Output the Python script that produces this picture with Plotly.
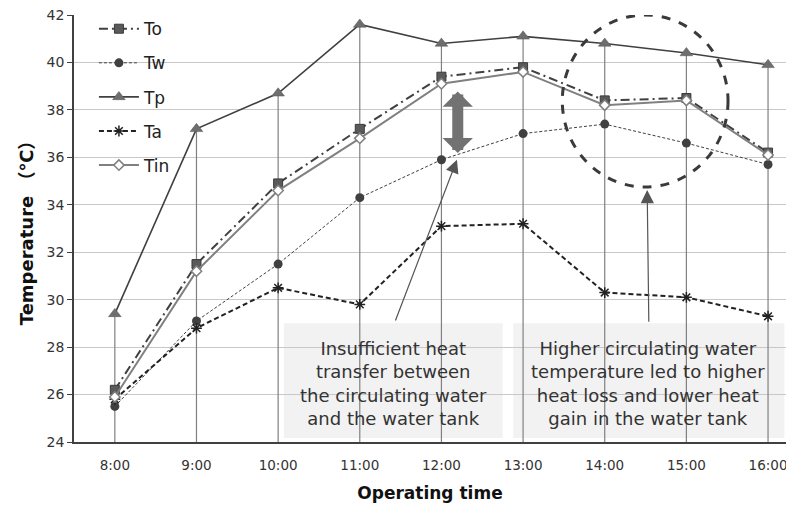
import plotly.graph_objects as go

times = ["8:00", "9:00", "10:00", "11:00", "12:00", "13:00", "14:00", "15:00", "16:00"]
To = [26.2, 31.5, 34.9, 37.2, 39.4, 39.8, 38.4, 38.5, 36.2]
Tw = [25.5, 29.1, 31.5, 34.3, 35.9, 37.0, 37.4, 36.6, 35.7]
Tp = [29.4, 37.2, 38.7, 41.6, 40.8, 41.1, 40.8, 40.4, 39.9]
Ta = [25.8, 28.8, 30.5, 29.8, 33.1, 33.2, 30.3, 30.1, 29.3]
Tin = [25.9, 31.2, 34.6, 36.8, 39.1, 39.6, 38.2, 38.4, 36.1]
y_ticks = [24, 26, 28, 30, 32, 34, 36, 38, 40, 42]

FONT = "DejaVu Sans, Noto Sans CJK SC"
idx = list(range(len(times)))

fig = go.Figure()

# drop lines from the highest series down to the axis
dx, dy = [], []
for i, v in zip(idx, Tp):
    dx += [i, i, None]
    dy += [y_ticks[0], v, None]
fig.add_trace(go.Scatter(x=dx, y=dy, mode="lines", line=dict(color="#808080", width=1.2),
                         showlegend=False, hoverinfo="skip"))

fig.add_trace(go.Scatter(x=idx, y=To, name="To", legendgroup="a", mode="lines+markers",
                         line=dict(color="#404040", width=2, dash="9px,4px,2px,4px"),
                         marker=dict(symbol="square", size=9, color="#5a5a5a",
                                     line=dict(color="#3a3a3a", width=1))))
fig.add_trace(go.Scatter(x=idx, y=Tw, name="Tw", legendgroup="b", mode="lines+markers",
                         line=dict(color="#404040", width=1, dash="3px,2px"),
                         marker=dict(symbol="circle", size=9, color="#404040")))
fig.add_trace(go.Scatter(x=idx, y=Tp, name="Tp", legendgroup="c", mode="lines+markers",
                         line=dict(color="#404040", width=1.6),
                         marker=dict(symbol="triangle-up", size=11, color="#6e6e6e",
                                     line=dict(color="#555555", width=0.5))))
fig.add_trace(go.Scatter(x=idx, y=Ta, name="Ta", legendgroup="d", mode="lines+markers",
                         line=dict(color="#222222", width=2, dash="5px,3px"),
                         marker=dict(symbol="asterisk-open", size=9,
                                     line=dict(color="#333333", width=1.5))))
fig.add_trace(go.Scatter(x=idx, y=Tin, name="Tin", legendgroup="e", mode="lines+markers",
                         line=dict(color="#808080", width=2),
                         marker=dict(symbol="diamond", size=8, color="white",
                                     line=dict(color="#808080", width=1.5))))

# annotation boxes
fig.add_shape(type="rect", xref="x", yref="y", x0=2.07, x1=4.75, y0=24.17, y1=29.01,
              fillcolor="#f2f2f2", line=dict(width=0), layer="below")
fig.add_shape(type="rect", xref="x", yref="y", x0=4.88, x1=8.2, y0=24.17, y1=29.01,
              fillcolor="#f2f2f2", line=dict(width=0), layer="below")
# dashed circle
fig.add_shape(type="circle", xref="x", yref="y", x0=5.48, x1=7.51, y0=34.75, y1=42.0,
              line=dict(color="#3a3a3a", width=3, dash="dash"))

fig.add_annotation(x=3.41, y=26.47, xref="x", yref="y", showarrow=False,
                   text="Insufficient heat<br>transfer between<br>the circulating water<br>and the water tank",
                   font=dict(family=FONT, size=18, color="#333333"), align="center")
fig.add_annotation(x=6.53, y=26.47, xref="x", yref="y", showarrow=False,
                   text="Higher circulating water<br>temperature led to higher<br>heat loss and lower heat<br>gain in the water tank",
                   font=dict(family=FONT, size=18, color="#333333"), align="center")

# pointer arrows
fig.add_annotation(x=4.19, y=35.9, ax=3.43, ay=29.06, xref="x", yref="y", axref="x", ayref="y",
                   text="", showarrow=True, arrowhead=2, arrowsize=2.2, arrowwidth=1.2,
                   arrowcolor="#555555")
fig.add_annotation(x=6.52, y=34.62, ax=6.54, ay=29.01, xref="x", yref="y", axref="x", ayref="y",
                   text="", showarrow=True, arrowhead=2, arrowsize=2.2, arrowwidth=1.2,
                   arrowcolor="#555555")
# double arrow
fig.add_annotation(x=4.2, y=36.18, ax=4.2, ay=38.84, xref="x", yref="y", axref="x", ayref="y",
                   text="", showarrow=True, arrowhead=1, arrowside="end+start", arrowsize=0.46,
                   arrowwidth=11, arrowcolor="#727272")

fig.update_layout(
    width=786, height=505,
    margin=dict(l=74, r=0, t=15, b=63),
    paper_bgcolor="white", plot_bgcolor="white",
    font=dict(family=FONT, color="#333333"),
    showlegend=True,
    legend=dict(x=0.028, y=1.009, xanchor="left", yanchor="top", bgcolor="rgba(0,0,0,0)",
                font=dict(family=FONT, size=17, color="#222222"), tracegroupgap=9,
                itemwidth=40),
    xaxis=dict(range=[-0.5, 8.22], tickmode="array", tickvals=idx, ticktext=times,
               automargin=False, ticklabeloverflow="allow",
               showgrid=False, zeroline=False, showline=True, linecolor="#404040", linewidth=1.5,
               ticks="", ticklabelstandoff=10, tickfont=dict(family=FONT, size=13.5, color="#333333"),
               title=dict(text="<b>Operating time</b>", font=dict(family=FONT, size=17, color="#111111"),
                          standoff=15)),
    yaxis=dict(range=[24, 42], tickvals=y_ticks, showgrid=True, gridcolor="#c8c8c8", gridwidth=1,
               automargin=False, ticklabeloverflow="allow",
               zeroline=False, showline=True, linecolor="#404040", linewidth=1.5,
               ticks="outside", ticklen=5, tickcolor="#404040",
               tickfont=dict(family=FONT, size=14, color="#333333"),
               title=dict(text="<b>Temperature （℃）</b>", font=dict(family=FONT, size=18, color="#111111"),
                          standoff=8)),
)

# remove the page's default body margin so the figure fills the window exactly
fig.write_html("out.html", config={"displayModeBar": False},
               post_script="document.body.style.margin='0';document.body.style.overflow='hidden';")
